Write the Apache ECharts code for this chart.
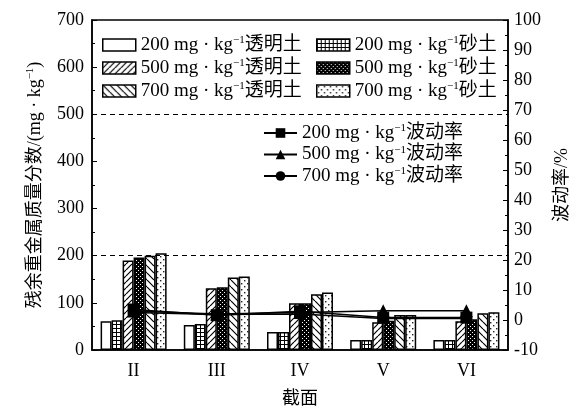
<!DOCTYPE html>
<html>
<head>
<meta charset="utf-8">
<script src="https://cdn.jsdelivr.net/npm/echarts@6/dist/echarts.min.js"></script>
<style>
  html, body { margin: 0; padding: 0; background: #fff; }
  #main { width: 573px; height: 412px; }
</style>
</head>
<body>
<div id="main"></div>
<script>
// 截面
const sections = ['II', 'III', 'IV', 'V', 'VI'];

// 残余重金属质量分数 (mg·kg-1)
const t200 = [61, 53, 38, 21, 21];   // 200 透明土
const s200 = [63, 55, 38, 21, 21];   // 200 砂土
const t500 = [190, 131, 99, 59, 61]; // 500 透明土
const s500 = [196, 133, 99, 62, 65]; // 500 砂土
const t700 = [200, 154, 118, 74, 78]; // 700 透明土
const s700 = [205, 156, 122, 74, 80]; // 700 砂土

// 波动率 (%)
const w200 = [3.5, 1.6, 2.9, 0.8, 0.8];
const w500 = [3.0, 2.0, 2.5, 3.1, 3.1];
const w700 = [2.5, 1.8, 2.0, 0.5, 0.5];

// 参考虚线 (左轴)
const refLines = [200, 500];

const FONT = '"Liberation Serif", "Noto Sans CJK SC", serif';

// 填充图案
function pattern(size, draw) {
  const c = document.createElement('canvas');
  c.width = c.height = size;
  const g = c.getContext('2d');
  g.fillStyle = '#fff';
  g.fillRect(0, 0, size, size);
  g.fillStyle = '#000';
  g.strokeStyle = '#000';
  draw(g, size);
  return { image: c, repeat: 'repeat' };
}
function diag(g, n, up) {
  g.lineWidth = 1.2;
  g.beginPath();
  for (let k = -1; k <= 1; k++) {
    if (up) { g.moveTo(k * n, n); g.lineTo(k * n + n, 0); }
    else { g.moveTo(k * n, 0); g.lineTo(k * n + n, n); }
  }
  g.stroke();
}
const fills = [
  '#fff',
  pattern(4, g => { g.fillRect(0, 0, 4, 1); g.fillRect(0, 0, 1, 4); }),
  pattern(6, (g, n) => diag(g, n, true)),
  pattern(4, g => { g.fillRect(0, 0, 4, 4); g.fillStyle = '#fff'; g.fillRect(0, 0, 1, 1); g.fillRect(2, 2, 1, 1); }),
  pattern(7, (g, n) => diag(g, n, false)),
  pattern(6, g => { g.fillStyle = '#222'; g.fillRect(1, 1, 1.4, 1.4); g.fillRect(4, 4, 1.4, 1.4); })
];

const barNames = [
  '200 mg · kg-1透明土', '200 mg · kg-1砂土',
  '500 mg · kg-1透明土', '500 mg · kg-1砂土',
  '700 mg · kg-1透明土', '700 mg · kg-1砂土'
];
const barData = [t200, s200, t500, s500, t700, s700];
const lineNames = ['200 mg · kg-1波动率', '500 mg · kg-1波动率', '700 mg · kg-1波动率'];
const lineData = [w200, w500, w700];
const lineSymbols = [['rect', 12], ['triangle', 13], ['circle', 10]];

const rich = {
  a: { fontFamily: FONT, fontSize: 19, color: '#000', lineHeight: 20 },
  s: { fontFamily: FONT, fontSize: 11, color: '#000', verticalAlign: 'top', lineHeight: 20, padding: [0, 0, 6, 0] }
};
const supFmt = name => {
  const p = name.split('-1');
  return '{a|' + p[0] + '}{s|−1}{a|' + p[1] + '}';
};

const myChart = echarts.init(document.getElementById('main'));

const series = barNames.map((name, i) => ({
  name,
  type: 'bar',
  yAxisIndex: 0,
  data: barData[i],
  barWidth: 11,
  barGap: '0%',
  itemStyle: { color: fills[i], borderColor: '#000', borderWidth: 1.5 },
  markLine: i === 0 ? {
    silent: true,
    symbol: 'none',
    label: { show: false },
    lineStyle: { color: '#000', type: [5, 4], width: 1.2 },
    data: refLines.map(v => ({ yAxis: v }))
  } : undefined
}));

lineNames.forEach((name, i) => {
  series.push({
    name,
    type: 'line',
    yAxisIndex: 1,
    data: lineData[i],
    symbol: lineSymbols[i][0],
    symbolSize: lineSymbols[i][1],
    z: 5 + (2 - i),
    lineStyle: { color: '#000', width: 1.5 },
    itemStyle: { color: '#000' }
  });
});

const barLegend = (names, left) => ({
  data: names,
  orient: 'vertical',
  left,
  top: 30,
  icon: 'rect',
  itemWidth: 33,
  itemHeight: 12,
  itemGap: 3.5,
  selectedMode: false,
  formatter: supFmt,
  itemStyle: { borderColor: '#000', borderWidth: 1.5 },
  textStyle: { rich }
});

const option = {
  animation: false,
  backgroundColor: '#fff',
  grid: {
    left: 92, right: 65, top: 20, bottom: 62,
    outerBoundsMode: 'none',
    containLabel: false,
    show: true, borderColor: '#000', borderWidth: 1.5
  },
  legend: [
    barLegend([barNames[0], barNames[2], barNames[4]], 97),
    barLegend([barNames[1], barNames[3], barNames[5]], 311),
    {
      data: lineNames,
      orient: 'vertical',
      left: 258,
      top: 118,
      itemWidth: 33,
      itemHeight: 12,
      itemGap: 2,
      selectedMode: false,
      formatter: supFmt,
      textStyle: { rich }
    }
  ],
  xAxis: {
    type: 'category',
    data: sections,
    name: '截面',
    nameLocation: 'middle',
    nameGap: 40,
    nameTextStyle: { fontFamily: FONT, fontSize: 18, color: '#000' },
    axisLine: { lineStyle: { color: '#000', width: 1.5 } },
    axisTick: { inside: true, length: 4, lineStyle: { color: '#000' } },
    axisLabel: { fontFamily: FONT, fontSize: 18, color: '#000', margin: 12 }
  },
  yAxis: [
    {
      type: 'value',
      min: 0, max: 700, interval: 100,
      name: '残余重金属质量分数/(mg · kg{s|−1})',
      nameLocation: 'middle',
      nameGap: 47,
      nameRotate: 90,
      nameTextStyle: { fontFamily: FONT, fontSize: 18, color: '#000', rich },
      axisLine: { show: true, lineStyle: { color: '#000', width: 1.5 } },
      axisTick: { show: true, inside: true, length: 5, lineStyle: { color: '#000' } },
      minorTick: { show: true, splitNumber: 2, length: 3, lineStyle: { color: '#000' } },
      splitLine: { show: false },
      axisLabel: { fontFamily: FONT, fontSize: 18, color: '#000', margin: 8 }
    },
    {
      type: 'value',
      position: 'right',
      min: -10, max: 100, interval: 10,
      name: '波动率/%',
      nameLocation: 'middle',
      nameGap: 45,
      nameRotate: 90,
      nameTextStyle: { fontFamily: FONT, fontSize: 18, color: '#000' },
      axisLine: { show: true, lineStyle: { color: '#000', width: 1.5 } },
      axisTick: { show: true, inside: true, length: 5, lineStyle: { color: '#000' } },
      minorTick: { show: true, splitNumber: 2, length: 3, lineStyle: { color: '#000' } },
      splitLine: { show: false },
      axisLabel: { fontFamily: FONT, fontSize: 18, color: '#000', margin: 6 }
    }
  ],
  series
};

myChart.setOption(option);
window.addEventListener('resize', () => myChart.resize());
</script>
</body>
</html>
